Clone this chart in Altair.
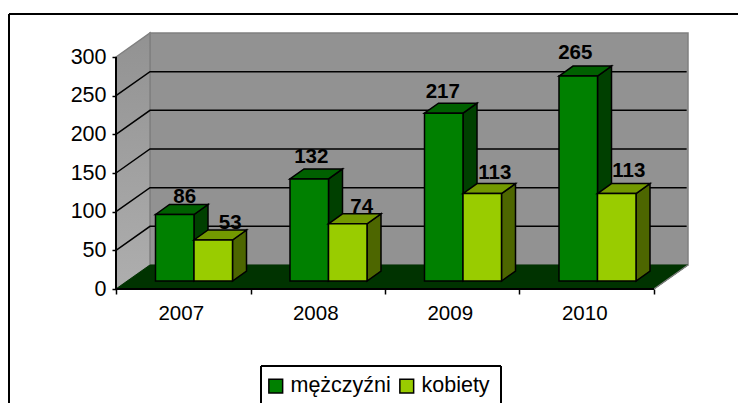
import altair as alt
import pandas as pd

years = ["2007", "2008", "2009", "2010"]
men = [86, 132, 217, 265]
women = [53, 74, 113, 113]
y_ticks = [0, 50, 100, 150, 200, 250, 300]
grid_values = [50, 100, 150, 200, 250]
series_names = ["mężczyźni", "kobiety"]

# layout (pixels of the reference, converted to data units through the scales)
PX_X = 134.5          # pixels per category
PX_Y = 232 / 300      # pixels per value unit
DX = 34 / PX_X        # wall depth
DY = 24 / PX_Y
N = len(years)
X_DOMAIN = [0, N + DX]
Y_DOMAIN = [0, 300 + DY]
BAR_START = 39.5 / PX_X
BAR_W = 38.5 / PX_X
BAR_BASE = 8 / PX_Y
BAR_DX = 14 / PX_X
BAR_DY = 10 / PX_Y
LEFT, TOP, W, H = 116, 33, 572, 256
SVG_W, SVG_H = 730, 395
FONT = "Liberation Sans"
FS = 20.5
NUDGE_M = [(10, -7), (2, -12), (-1, -11), (-3, -13)]
NUDGE_W = [(17, -7), (14, -7), (12.5, -10.5), (12, -12.5)]

MEN = ("#008000", "#006000", "#004000")
WOMEN = ("#99CC00", "#739900", "#4D6600")
WALL = "#929292"
WALL_EDGE = "#808080"
FLOOR = "#003300"
SIDE_WALL = alt.Gradient(
    gradient="linear",
    stops=[alt.GradientStop(color="#929292", offset=0), alt.GradientStop(color="#AEAEAE", offset=1)],
    x1=0, x2=0, y1=0, y2=1,
)

x_scale = alt.Scale(domain=X_DOMAIN, range=[0, W], nice=False, zero=False)
y_scale = alt.Scale(domain=Y_DOMAIN, range=[H, 0], nice=False, zero=False)

Y_AXIS = alt.Axis(
    values=y_ticks, domain=False, grid=False, title=None, tickColor="#000000",
    tickSize=4, tickWidth=1.5, labelFont=FONT, labelFontSize=21.5, labelColor="#000000",
    labelPadding=6, zindex=1,
)
X_AXIS = alt.Axis(
    values=list(range(N + 1)), domain=False, grid=False, title=None, labels=False,
    tickColor="#000000", tickSize=5, tickWidth=1.5, zindex=1,
)


def ex():
    return alt.X("x:Q", scale=x_scale, axis=X_AXIS)


def ey():
    return alt.Y("y:Q", scale=y_scale, axis=Y_AXIS, stack=None)


def poly(rows, fill, stroke, sw=1.0):
    df = pd.DataFrame(rows, columns=["g", "x", "y", "y2"])
    return alt.Chart(df).mark_area(
        fill=fill, stroke=stroke, strokeWidth=sw, opacity=1, interpolate="linear"
    ).encode(x=ex(), y=ey(), y2="y2:Q", detail="g:N")


def seg(rows, color, sw):
    df = pd.DataFrame(rows, columns=["g", "o", "x", "y"])
    return alt.Chart(df).mark_line(color=color, strokeWidth=sw, interpolate="linear").encode(
        x=ex(), y=ey(), detail="g:N", order="o:Q"
    )


back = poly([(0, DX, 300 + DY, DY), (0, N + DX, 300 + DY, DY)], WALL, WALL_EDGE, 1.5)
side = poly([(0, 0, 300, 0), (0, DX, 300 + DY, DY)], SIDE_WALL, WALL_EDGE, 1.5)
floor = poly([(0, 0, 0, 0), (0, DX, DY, 0), (0, N, DY, 0), (0, N + DX, DY, DY)], FLOOR, FLOOR, 1)
floor_edge = seg([(0, 0, N, 0), (0, 1, N + DX, DY)], WALL_EDGE, 1.5)

grid_rows = []
for k, v in enumerate(grid_values):
    grid_rows += [(k, 0, 0, v), (k, 1, DX, v + DY), (k, 2, N + DX - 0.01, v + DY)]
grid = seg(grid_rows, "#000000", 1.5)
front = alt.Chart(pd.DataFrame({"x": [0.0], "y": [0], "y2": [300]})).mark_rule(
    color="#000000", strokeWidth=2
).encode(x=ex(), y=ey(), y2="y2:Q")
base_line = seg([(0, 0, 0, 0), (0, 1, N, 0)], "#000000", 2)


def bar_layers(values, slot, colors):
    sides, tops, fronts = [], [], []
    for i, v in enumerate(values):
        x0 = i + BAR_START + slot * BAR_W
        x1 = x0 + BAR_W
        b = BAR_BASE
        t = b + v
        sides += [(i, x1, t, b), (i, x1 + BAR_DX, t + BAR_DY, b + BAR_DY)]
        tops += [
            (i, x0, t, t),
            (i, x0 + BAR_DX, t + BAR_DY, t),
            (i, x1, t + BAR_DY, t),
            (i, x1 + BAR_DX, t + BAR_DY, t + BAR_DY),
        ]
        fronts.append({"x": x0, "x2": x1, "y": t, "y2": b, "series": series_names[slot]})
    fr = alt.Chart(pd.DataFrame(fronts)).mark_rect(stroke="#000000", strokeWidth=1.5).encode(
        x=ex(),
        x2="x2:Q",
        y=ey(),
        y2="y2:Q",
        color=alt.Color(
            "series:N",
            scale=alt.Scale(domain=series_names, range=[MEN[0], WOMEN[0]]),
            sort=series_names,
            legend=alt.Legend(
                title=None,
                orient="none",
                legendX=265 - LEFT,
                legendY=375 - TOP,
                direction="horizontal",
                columns=2,
                columnPadding=5,
                padding=0,
                labelFont=FONT,
                labelFontSize=21.5,
                labelColor="#000000",
                labelLimit=200,
                labelOffset=4,
                symbolType="square",
                symbolSize=190,
                symbolStrokeColor="#000000",
                symbolStrokeWidth=1.5,
                symbolOpacity=1,
            ),
        ),
    )
    return [poly(sides, colors[2], "#000000", 1.5), poly(tops, colors[1], "#000000", 1.5), fr]


layers = [back, side, floor, floor_edge, grid]
layers += bar_layers(men, 0, MEN)
layers += bar_layers(women, 1, WOMEN)
layers += [front, base_line]

cat = alt.Chart(pd.DataFrame({"x": [i + 0.5 for i in range(N)], "t": years})).mark_text(
    font=FONT, fontSize=FS, color="#000000", baseline="middle", dx=-2
).encode(x=ex(), y=alt.value(314 - TOP), text="t:N")
layers.append(cat)

lab = []
for slot, (vals, nudges) in enumerate([(men, NUDGE_M), (women, NUDGE_W)]):
    for i, (v, (dx, dy)) in enumerate(zip(vals, nudges)):
        cx = i + BAR_START + slot * BAR_W + BAR_W / 2 + dx / PX_X
        lab.append({"x": cx, "y": BAR_BASE + v + BAR_DY - dy / PX_Y, "t": str(v)})
labels = alt.Chart(pd.DataFrame(lab)).mark_text(
    font=FONT, fontSize=FS, fontWeight="bold", color="#000000", baseline="middle"
).encode(x=ex(), y=ey(), text="t:N")
layers.append(labels)


def frame(**enc):
    return alt.Chart(pd.DataFrame({"a": [0]})).mark_rule(color="#000000", strokeWidth=2).encode(**enc)


layers += [
    frame(x=alt.value(9 - LEFT), x2=alt.value(746 - LEFT), y=alt.value(14 - TOP)),
    frame(x=alt.value(9 - LEFT), y=alt.value(14 - TOP), y2=alt.value(403 - TOP)),
    frame(x=alt.value(261 - LEFT), x2=alt.value(501 - LEFT), y=alt.value(366 - TOP)),
    frame(x=alt.value(261 - LEFT), y=alt.value(366 - TOP), y2=alt.value(403 - TOP)),
    frame(x=alt.value(501 - LEFT), y=alt.value(366 - TOP), y2=alt.value(403 - TOP)),
]

chart = alt.layer(*layers).resolve_scale(x="shared", y="shared").properties(
    width=W,
    height=H,
    background="#ffffff",
    padding={"left": LEFT - 8, "top": TOP - 8, "right": SVG_W - (LEFT - 8) - W, "bottom": SVG_H - (TOP - 8) - H},
    autosize=alt.AutoSizeParams(type="none"),
).configure_view(stroke=None)

chart.save("out.html", embed_options={"renderer": "svg", "actions": False})
